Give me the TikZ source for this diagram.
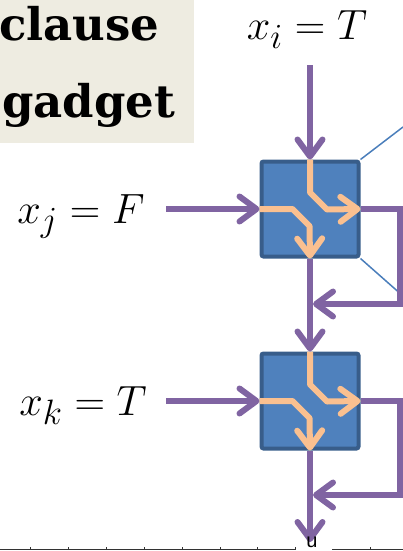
\documentclass[tikz,border=0pt]{standalone}
\usepackage{fontspec}
\newfontfamily\titlefont{DejaVu Serif}
\newfontfamily\smallsans{Liberation Sans}
\usetikzlibrary{arrows.meta}
\definecolor{pur}{HTML}{8064A2}
\definecolor{ora}{HTML}{FAC090}
\definecolor{boxfill}{HTML}{4F81BD}
\definecolor{boxline}{HTML}{385D8A}
\definecolor{beige}{HTML}{EEECE1}
\definecolor{calloutblue}{HTML}{4A7EBB}
\tikzset{
  barb/.tip={Straight Barb[length=17pt,width=25pt,round]},
  parrow/.style={draw=pur,line width=6pt,-barb},
  pline/.style={draw=pur,line width=6pt},
  oarrow/.style={draw=ora,line width=6pt,-barb,line join=round},
  gbox/.style={draw=boxline,fill=boxfill,line width=4pt,rounded corners=2pt,minimum width=97pt,minimum height=95pt,inner sep=0pt,outer sep=2pt},
  eqlabel/.style={font=\Huge,scale=1.7,inner sep=0pt,anchor=base},
  callout/.style={draw=calloutblue,line width=1.5pt},
  titletext/.style={font=\titlefont\bfseries\fontsize{45}{54}\selectfont,inner sep=0pt,anchor=base west},
}
\begin{document}
\begin{tikzpicture}[x=1pt,y=-1pt]
\useasboundingbox (0,0) rectangle (403,551);
% title
\fill[beige] (0,0) rectangle (194,143);
\node[titletext] (t1) at (-1,41) {clause};
\node[titletext] (t2) at (2,117) {gadget};
% labels
\node[eqlabel] (li) at (307,40) {$x_i = T$};
\node[eqlabel] (lj) at (81,223) {$x_j = F$};
\node[eqlabel] (lk) at (83,415) {$x_k = T$};
% boxes
\node[gbox] (b1) at (310,209) {};
\node[gbox] (b2) at (310,401) {};
% callout lines
\coordinate (c1) at (403,127);
\coordinate (c2) at (403,296);
\draw[callout] (b1.north east) -- (c1);
\draw[callout] (b1.south east) -- (c2);
% inputs
\coordinate (ti) at (310,65);
\coordinate (tj) at (166,209);
\coordinate (tk) at (166,401);
\draw[parrow] (ti) -- (b1.north);
\draw[parrow] (tj) -- (b1.west);
\draw[parrow] (tk) -- (b2.west);
% orange inner paths
\foreach \b in {b1,b2}{
  \draw[oarrow] (\b.north) -- ++(0,33) -- ++(17,17) -- (\b.east);
  \draw[oarrow] (\b.west) -- ++(33,0) -- ++(17,17) -- (\b.south);
}
% outputs
\coordinate (m1) at (313,304);
\coordinate (m2) at (313,495);
\draw[pline,line join=miter] (b1.east) -- (400,209) -- (400,304) -- (350,304);
\draw[parrow] (350,304) -- (m1);
\draw[parrow] (b1.south) -- (b2.north);
\draw[pline,line join=miter] (b2.east) -- (400,401) -- (400,495) -- (350,495);
\draw[parrow] (350,495) -- (m2);
\coordinate (bot) at (310,542);
\draw[parrow] (b2.south) -- (bot);
% bottom ruler
\draw[line width=1.2pt,color=black!80] (0,549.5) -- (296,549.5);
\draw[line width=1.2pt,color=black!80] (332,549.5) -- (403,549.5);
\foreach \t in {30,68,106,144,182,220,257,295,370}{
  \draw[line width=1pt,color=black!80] (\t,549.5) -- (\t,546.5);
}
\node[font=\smallsans\fontsize{20}{22}\selectfont,inner sep=0pt,anchor=base] (u) at (312,547) {u};
\end{tikzpicture}
\end{document}
